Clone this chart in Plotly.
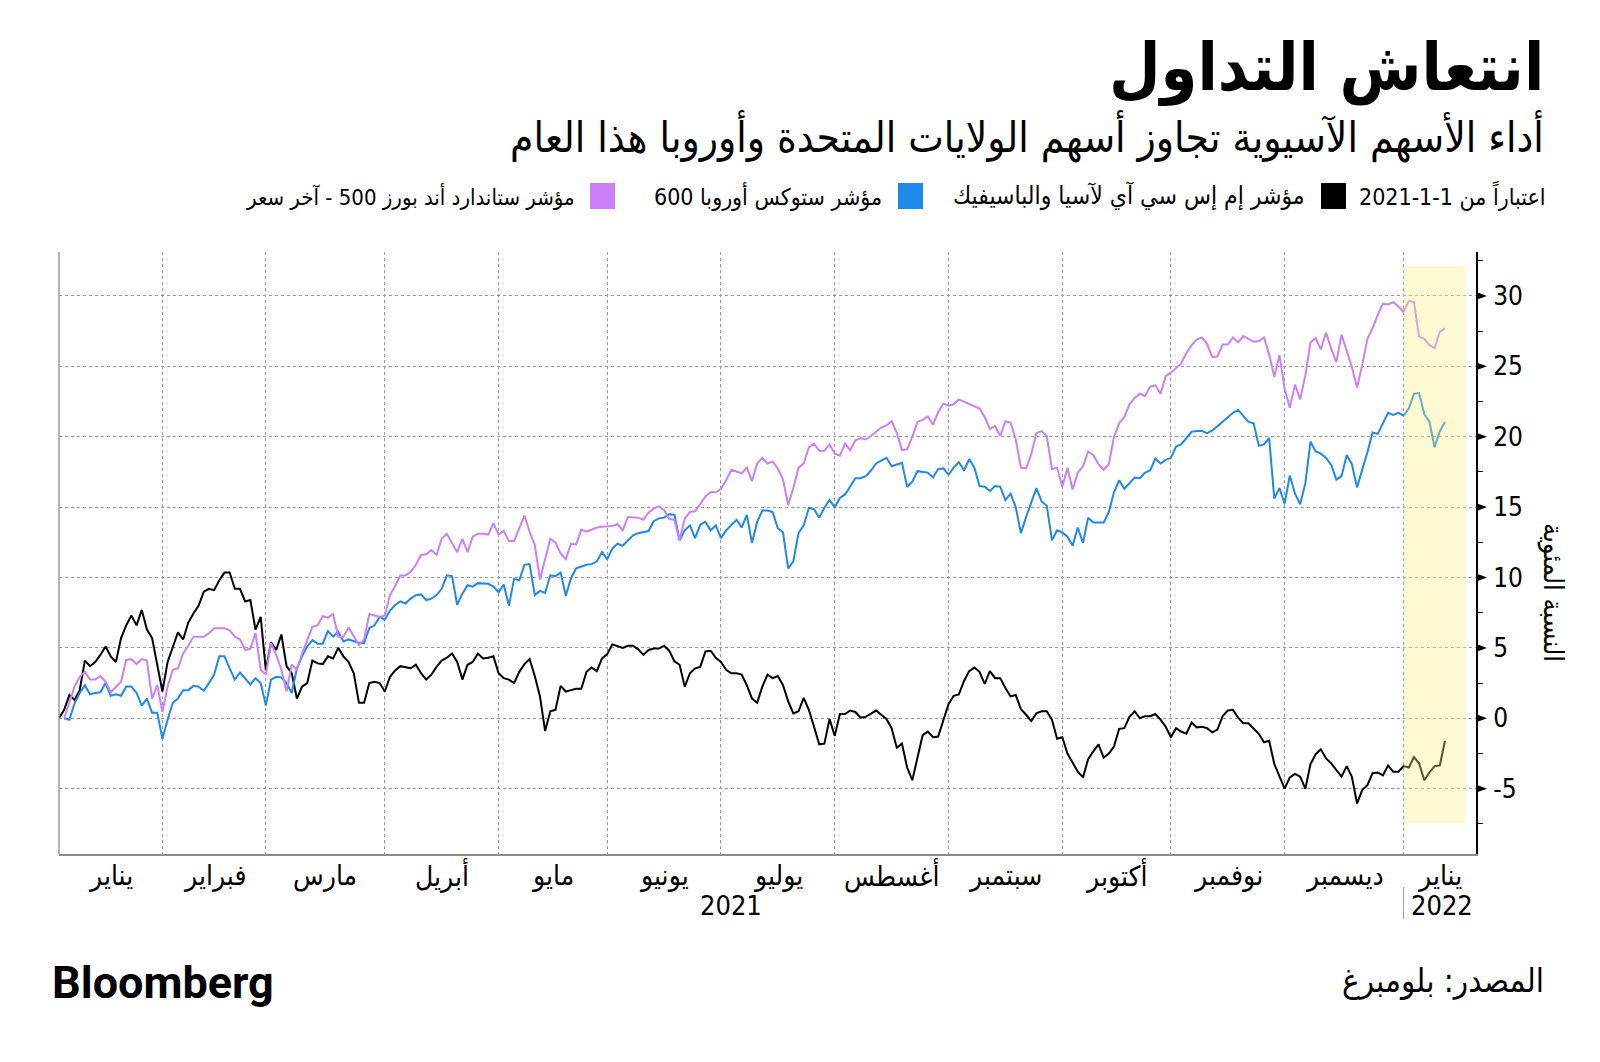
import pandas as pd
import plotly.graph_objects as go

# ---- data (percent change since 2021-01-01) ----
DATES = pd.bdate_range("2021-01-04", "2022-01-13")

ASIA = [
    0, 0.6, 1.65, 1.3, 2.0, 4.1, 3.7, 4.0, 4.5, 5.1,
    4.4, 4.0, 5.7, 6.6, 7.3, 6.6, 7.7, 6.3, 5.7, 3.8,
    1.9, 4.0, 5.0, 6.1, 5.6, 6.8, 7.45, 8.0, 9.0, 9.2,
    9.1, 9.8, 10.35, 10.35, 9.2, 9.2, 8.3, 8.4, 6.3, 7.2,
    3.4, 5.4, 4.85, 5.95, 3.7, 3.2, 1.4, 2.25, 2.5, 4.1,
    3.9, 3.85, 4.4, 4.25, 5.0, 4.4, 4.0, 3.2, 1.1, 1.1,
    2.5, 2.6, 2.5, 1.9, 2.95, 3.4, 3.7, 3.65, 3.55, 3.8,
    3.2, 2.75, 3.1, 3.65, 4.1, 4.3, 4.6, 4.0, 2.75, 3.8,
    4.0, 4.6, 4.25, 4.3, 4.4, 3.2, 2.85, 2.75, 2.5, 3.3,
    3.85, 4.2, 3.0, 1.55, -0.9, 0.5, 0.6, 2.3, 1.9, 2.0,
    2.1, 2.1, 3.3, 3.6, 3.35, 4.25, 4.55, 5.25, 5.15, 5.0,
    5.15, 5.15, 4.9, 4.5, 4.85, 4.95, 4.95, 5.15, 4.8, 4.05,
    3.8, 2.25, 3.2, 3.55, 3.65, 4.75, 4.8, 4.3, 4.0, 3.45,
    3.2, 3.2, 3.1, 2.35, 1.4, 1.1, 2.25, 3.1, 2.85, 3.0,
    2.35, 1.2, 0.35, 0.5, 1.45, 0.6, -0.6, -1.85, -1.8, -0.05,
    -1.25, 0.3, 0.3, 0.55, 0.45, 0.05, 0.1, 0.35, 0.55, 0.25,
    -0.05, -0.7, -2.1, -1.8, -3.5, -4.4, -2.7, -1.2, -0.95, -1.35,
    -1.3, -0.1, 1.0, 1.6, 1.7, 2.65, 3.35, 3.6, 3.3, 2.45,
    3.35, 2.85, 2.85, 2.15, 1.55, 1.65, 0.65, 0.25, -0.2, 0.35,
    0.5, 0.5, -0.1, -1.45, -1.35, -2.5, -3.1, -3.8, -4.2, -2.9,
    -2.35, -1.85, -2.8, -2.5, -2.0, -0.75, -0.7, 0.1, 0.5, 0.0,
    0.15, 0.15, 0.3, -0.1, -0.6, -1.35, -0.7, -0.95, -1.1, -0.3,
    -0.65, -0.6, -0.7, -1.0, -0.8, 0.15, 0.55, 0.6, 0.05, -0.35,
    -0.35, -0.7, -1.1, -1.7, -1.6, -3.25, -4.15, -5.0, -4.2, -3.95,
    -4.15, -5.0, -3.25, -2.55, -2.2, -2.85, -3.2, -3.65, -4.15, -3.4,
    -4.15, -6.05, -5.1, -4.75, -3.9, -3.85, -4.05, -3.35, -3.8, -3.8,
    -3.4, -3.5, -2.75, -3.2, -4.4, -3.85, -3.4, -3.35, -1.6,
]

# Europe and US start one session later
STOXX = [
    0, -0.1, 1.05, 1.8, 2.35, 1.7, 1.8, 1.85, 2.5, 1.6,
    1.7, 1.6, 2.25, 2.25, 1.8, 0.9, 1.4, 0.4, 0.4, -1.45,
    -0.1, 1.1, 1.4, 2.0, 2.0, 2.3, 2.25, 1.95, 2.5, 3.1,
    4.4, 4.4, 3.55, 2.75, 3.25, 2.85, 2.4, 2.85, 2.5, 0.9,
    2.75, 2.95, 2.9, 2.5, 1.8, 3.55, 4.4, 5.1, 5.55, 5.3,
    5.3, 6.2, 5.8, 6.15, 5.45, 5.6, 5.45, 5.35, 5.35, 6.4,
    6.6, 7.2, 7.0, 7.65, 8.05, 8.3, 8.15, 8.5, 8.75, 8.8,
    8.4, 8.5, 8.75, 9.2, 10.15, 10.1, 8.05, 8.85, 9.45, 9.35,
    9.6, 9.6, 9.55, 9.35, 8.95, 9.5, 8.0, 9.9, 9.8, 10.9,
    10.95, 8.75, 9.05, 8.9, 10.15, 10.1, 10.35, 8.7, 9.95, 10.65,
    10.8, 10.9, 10.95, 11.15, 11.8, 11.3, 12.05, 12.4, 12.25, 12.65,
    13.0, 13.15, 13.2, 13.3, 14.0, 14.2, 14.25, 14.5, 14.45, 12.65,
    13.35, 13.7, 12.8, 13.75, 13.95, 13.35, 13.7, 12.8, 13.35, 13.75,
    14.1, 13.55, 14.45, 12.45, 13.95, 14.75, 14.75, 14.65, 13.5, 13.2,
    10.65, 11.15, 13.15, 13.7, 14.95, 14.85, 14.25, 14.95, 15.5, 15.0,
    15.65, 15.9, 16.5, 17.05, 17.05, 17.2, 17.6, 18.1, 18.3, 18.5,
    17.9, 18.0, 18.15, 16.45, 16.8, 17.55, 17.5, 17.45, 17.1, 17.7,
    17.75, 17.3, 17.8, 18.2, 17.6, 18.4, 17.8, 16.5, 16.45, 16.15,
    16.5, 16.45, 15.5, 15.95, 15.0, 13.15, 14.3, 15.35, 16.35, 15.4,
    15.1, 12.65, 13.35, 13.2, 12.9, 12.25, 13.55, 12.45, 14.25, 13.9,
    13.9, 13.9, 14.65, 16.05, 16.9, 16.3, 16.7, 17.1, 17.05, 17.45,
    17.6, 18.45, 18.1, 18.35, 18.5, 19.3, 19.45, 19.9, 20.35, 20.4,
    20.4, 20.25, 20.45, 20.75, 21.05, 21.35, 21.7, 21.9, 21.5, 21.05,
    20.95, 19.35, 19.45, 19.9, 15.6, 16.35, 15.25, 17.25, 15.95, 15.2,
    16.7, 19.65, 18.95, 18.8, 18.5, 18.0, 16.95, 17.2, 18.7, 18.05,
    16.4, 17.6, 18.9, 20.3, 20.2, 20.95, 21.7, 21.55, 21.7, 21.5,
    22.0, 23.05, 23.1, 21.6, 21.05, 19.25, 20.4, 21.05,
]

SPX = [
    0, 1.05, 2.25, 2.95, 3.3, 2.75, 2.75, 3.0, 2.6, 1.85,
    2.25, 2.6, 4.15, 4.2, 3.85, 4.2, 4.1, 1.4, 2.35, 0.45,
    2.25, 3.45, 3.55, 4.6, 5.15, 5.8, 5.8, 5.8, 6.05, 6.4,
    6.4, 6.4, 6.25, 5.8, 5.6, 4.85, 4.95, 6.05, 3.45, 3.1,
    5.35, 4.5, 3.45, 1.9, 3.8, 3.45, 4.6, 5.55, 6.5, 6.6,
    7.25, 7.15, 7.4, 5.8, 5.8, 6.45, 5.8, 5.2, 5.6, 7.4,
    7.3, 7.2, 7.3, 8.75, 9.4, 10.15, 10.15, 10.4, 10.9, 11.6,
    11.65, 11.95, 11.6, 12.75, 13.1, 12.5, 11.8, 12.75, 11.8, 12.9,
    13.1, 13.1, 13.05, 13.85, 13.05, 13.3, 12.6, 12.6, 13.5, 14.4,
    13.25, 12.3, 9.85, 11.3, 12.75, 12.5, 11.7, 11.3, 12.4, 12.35,
    13.4, 13.25, 13.4, 13.55, 13.6, 13.65, 13.65, 13.8, 13.35, 14.3,
    14.25, 14.25, 14.1, 14.6, 14.9, 15.05, 14.8, 14.15, 14.1, 12.65,
    14.2, 14.65, 14.7, 15.2, 15.75, 16.05, 16.05, 16.3, 16.9, 17.65,
    17.55, 17.4, 17.8, 16.85, 18.1, 18.5, 18.1, 18.25, 17.75, 16.95,
    15.15, 16.35, 17.8, 18.1, 19.25, 19.5, 19.0, 19.0, 19.45, 18.8,
    18.65, 19.5, 19.05, 19.75, 19.9, 19.8, 20.05, 20.35, 20.65, 20.8,
    21.1, 20.25, 19.05, 19.1, 20.0, 21.05, 21.2, 21.45, 20.85, 21.75,
    22.35, 22.2, 22.3, 22.65, 22.5, 22.35, 22.2, 22.0, 21.4, 20.55,
    20.75, 20.05, 21.1, 21.0, 19.8, 17.8, 17.75, 18.75, 20.25, 20.4,
    20.05, 17.7, 17.8, 16.45, 17.8, 16.25, 17.45, 17.9, 18.95, 18.7,
    18.05, 17.65, 18.05, 20.0, 20.95, 21.4, 22.3, 22.75, 23.05, 22.9,
    23.55, 23.65, 23.05, 24.3, 24.55, 24.85, 25.2, 25.95, 26.5, 26.9,
    27.05, 26.6, 25.65, 25.7, 26.55, 26.55, 27.05, 26.7, 27.15, 26.95,
    26.75, 26.8, 27.05, 25.85, 24.25, 25.8, 23.4, 22.05, 23.7, 22.65,
    24.35, 26.7, 27.0, 26.2, 27.4, 26.25, 25.3, 27.25, 26.15, 24.95,
    23.5, 25.1, 26.95, 27.7, 28.65, 29.45, 29.4, 29.55, 29.25, 28.85,
    29.65, 29.55, 27.1, 26.95, 26.5, 26.3, 27.45, 27.7,
]

SERIES_NAMES = [
    "مؤشر إم إس سي آي لآسيا والباسيفيك",
    "مؤشر ستوكس أوروبا 600",
    "مؤشر ستاندارد أند بورز 500 - آخر سعر",
]
MONTH_NAMES = ["يناير", "فبراير", "مارس", "أبريل", "مايو", "يونيو", "يوليو",
               "أغسطس", "سبتمبر", "أكتوبر", "نوفمبر", "ديسمبر", "يناير"]
Y_TICKS = [-5, 0, 5, 10, 15, 20, 25, 30]
X_START, X_END = "2021-01-04", "2022-01-21"
HILITE_START, HILITE_END = "2022-01-03", "2022-01-19"

# ---- style ----
BLACK = "#000000"
BLUE = "#1f88e8"
PURPLE = "#c980f8"
GRID = "#9a9a9a"
AR_FONT = "DejaVu Sans Condensed, DejaVu Sans, sans-serif"
NUM_FONT = "DejaVu Sans Condensed, DejaVu Sans, sans-serif"

# the page body adds an 8px margin, so the figure is 16px smaller than the window
OFF = 8
W, H = 1600 - 2 * OFF, 1062 - 2 * OFF
L, R, T, B = 51, 116, 244, 200
PL, PR, PT, PB = L + OFF, W - R + OFF, T + OFF, H - B + OFF


def px(x):
    """page pixel x -> paper x"""
    return (x - PL) / (PR - PL)


def py(y):
    """page pixel y -> paper y"""
    return (PB - y) / (PB - PT)


fig = go.Figure()
for name, vals, color, start in [
    (SERIES_NAMES[0], ASIA, BLACK, 0),
    (SERIES_NAMES[1], STOXX, BLUE, 1),
    (SERIES_NAMES[2], SPX, PURPLE, 1),
]:
    fig.add_trace(go.Scatter(
        x=DATES[start:start + len(vals)], y=vals, mode="lines", name=name,
        line=dict(color=color, width=2), showlegend=False,
    ))

# month start gridlines
s = pd.Series(DATES, index=DATES)
month_starts = s.groupby([DATES.year, DATES.month]).first().tolist()[1:]
month_starts.append(pd.Timestamp("2022-01-03"))
month_starts = sorted(set(month_starts))

ann = []
# month labels, centred on each visible month
lo, hi = pd.Timestamp(X_START), pd.Timestamp(X_END) - pd.Timedelta(days=1)
periods = pd.period_range("2021-01", "2022-01", freq="M")
for per, label in zip(periods, MONTH_NAMES):
    bd = pd.bdate_range(max(per.start_time, lo), min(per.end_time.normalize(), hi))
    n = len(bd)
    mid = bd[n // 2] + (pd.Timedelta(hours=12) if n % 2 else pd.Timedelta(0))
    ann.append(dict(x=mid.strftime("%Y-%m-%d %H:%M"), y=py(875), xref="x", yref="paper",
                    text=label, showarrow=False, yanchor="middle",
                    font=dict(size=28, family=AR_FONT, color=BLACK)))

bd21 = pd.bdate_range(X_START, "2021-12-31")
ann.append(dict(x=bd21[len(bd21) // 2].strftime("%Y-%m-%d"), y=py(905), xref="x", yref="paper",
                text="2021", showarrow=False, yanchor="middle",
                font=dict(size=27, family=NUM_FONT, color=BLACK)))
ann.append(dict(x=HILITE_START, y=py(905), xref="x", yref="paper", xanchor="left", xshift=5,
                text="2022", showarrow=False, yanchor="middle",
                font=dict(size=27, family=NUM_FONT, color=BLACK)))

# header
ann.append(dict(x=px(1546), y=py(68), xref="paper", yref="paper", xanchor="right", yanchor="middle",
                text="<b>انتعاش التداول</b>", showarrow=False,
                font=dict(size=66, family=AR_FONT, color=BLACK)))
ann.append(dict(x=px(1546), y=py(137), xref="paper", yref="paper", xanchor="right", yanchor="middle",
                text="أداء الأسهم الآسيوية تجاوز أسهم الولايات المتحدة وأوروبا هذا العام",
                showarrow=False, font=dict(size=42, family=AR_FONT, color=BLACK)))

# legend row (right to left); the date is isolated so it reads 2021-1-1
legend_text = [(1548, "\u2067اعتباراً من \u20662021-1-1\u2069\u2069", 23),
               (1307, SERIES_NAMES[0], 24.5),
               (884, SERIES_NAMES[1], 23),
               (577, SERIES_NAMES[2], 22)]
for xr, txt, size in legend_text:
    ann.append(dict(x=px(xr), y=py(196), xref="paper", yref="paper", xanchor="right",
                    yanchor="middle", text=txt, showarrow=False,
                    font=dict(size=size, family=AR_FONT, color=BLACK)))

# y axis title
ann.append(dict(x=px(1553), y=py(592), xref="paper", yref="paper", textangle=90,
                text="النسبة المئوية", showarrow=False, xanchor="center", yanchor="middle",
                font=dict(size=27, family=AR_FONT, color=BLACK)))

# footer
ann.append(dict(x=px(1546), y=py(980), xref="paper", yref="paper", xanchor="right", yanchor="middle",
                text="المصدر: بلومبرغ", showarrow=False,
                font=dict(size=33, family=AR_FONT, color=BLACK)))
ann.append(dict(x=px(50), y=py(983), xref="paper", yref="paper", xanchor="left", yanchor="middle",
                text="<b>Bloomberg</b>", showarrow=False,
                font=dict(size=45, family="Roboto, sans-serif", color=BLACK)))

shapes = [
    # highlighted latest period
    dict(type="rect", xref="x", yref="y", x0=HILITE_START, x1=HILITE_END, y0=-7.5, y1=32.1,
         fillcolor="rgba(250,240,130,0.35)", line=dict(width=0), layer="above"),
    # left frame line
    dict(type="line", xref="paper", yref="paper", x0=0, x1=0, y0=0, y1=1,
         line=dict(color="#9a9a9a", width=1.5)),
    # year separator below the axis
    dict(type="line", xref="x", yref="paper", x0=HILITE_START, x1=HILITE_START,
         y0=py(887), y1=py(919), line=dict(color="#9a9a9a", width=1)),
]
for xr, color in [(1321, BLACK), (898, BLUE), (590, PURPLE)]:
    shapes.append(dict(type="rect", xref="paper", yref="paper", x0=px(xr), x1=px(xr + 25),
                       y0=py(209), y1=py(183), fillcolor=color, line=dict(width=0)))

# small triangles pointing at the major y tick labels
tri_w = 11 / (PR - PL)
for v in Y_TICKS:
    shapes.append(dict(type="path", xref="paper", yref="y", layer="above",
                       path=f"M 1.0007,{v + 0.26} L {1 + tri_w},{v} L 1.0007,{v - 0.26} Z",
                       fillcolor=BLACK, line=dict(width=0)))

fig.update_layout(
    width=W, height=H,
    margin=dict(l=L, r=R, t=T, b=B),
    paper_bgcolor="white", plot_bgcolor="white",
    xaxis=dict(
        type="date", range=[X_START, X_END],
        rangebreaks=[dict(bounds=["sat", "mon"])],
        tickmode="array", tickvals=month_starts, showticklabels=False, ticks="",
        showgrid=True, gridcolor=GRID, griddash="dot", gridwidth=1,
        showline=True, linecolor="#8c8c8c", linewidth=2, zeroline=False,
    ),
    yaxis=dict(
        side="right", range=[-9.64, 33.12],
        tickmode="array", tickvals=Y_TICKS, ticktext=[str(v) for v in Y_TICKS],
        ticks="", ticklabelstandoff=10,
        tickfont=dict(size=26, family=NUM_FONT, color=BLACK),
        minor=dict(ticks="outside", ticklen=5, tickcolor=BLACK, tickwidth=1,
                   dtick=2.5, tick0=0, showgrid=False),
        showgrid=True, gridcolor=GRID, griddash="dot", gridwidth=1,
        showline=True, linecolor=BLACK, linewidth=2, zeroline=False,
    ),
    annotations=ann,
    shapes=shapes,
    showlegend=False,
)

fig.write_html("out.html")
